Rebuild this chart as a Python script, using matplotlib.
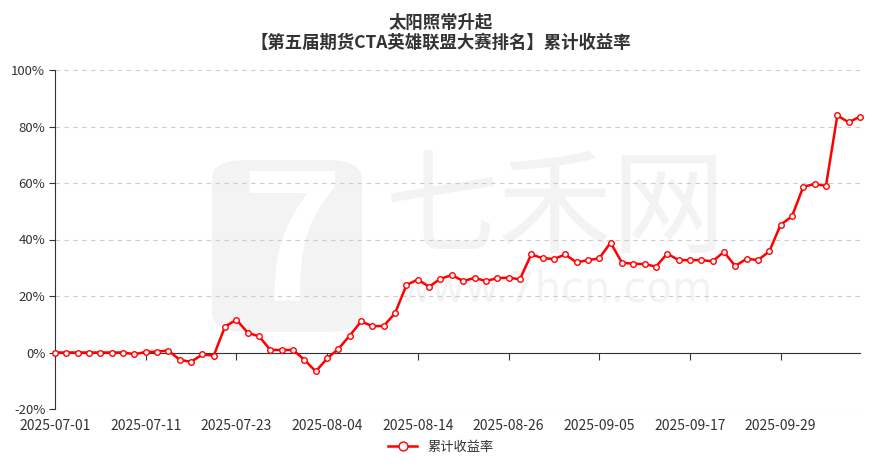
import matplotlib
matplotlib.use("Agg")
from matplotlib import pyplot as plt
from matplotlib.patches import FancyBboxPatch
import numpy as np
import pandas as pd

plt.rcParams["font.family"] = ["Noto Sans CJK SC", "DejaVu Sans"]

# ---- data ----------------------------------------------------------------
TITLE = "太阳照常升起\n【第五届期货CTA英雄联盟大赛排名】累计收益率"
SERIES_NAME = "累计收益率"

# trading days (China), national-day holiday removed
days = pd.bdate_range("2025-07-01", "2025-10-16")
days = days[(days < "2025-10-01") | (days > "2025-10-08")]
dates = [d.strftime("%Y-%m-%d") for d in days]

# cumulative return, %
returns = [0, 0, 0, 0, 0, 0, 0, -0.6, 0.2, 0.3,
           0.7, -2.6, -3.3, -0.7, -1.1, 9.2, 11.6, 7.0, 5.7, 0.9,
           0.9, 0.9, -2.6, -6.7, -2.1, 1.3, 6.0, 11.0, 9.3, 9.4,
           14.0, 23.9, 25.8, 23.3, 26.1, 27.4, 25.3, 26.4, 25.3, 26.3,
           26.5, 25.9, 34.7, 33.4, 33.1, 34.7, 31.9, 32.7, 33.3, 38.9,
           31.8, 31.4, 31.3, 30.4, 35.0, 32.7, 32.7, 32.7, 32.3, 35.6,
           30.6, 33.2, 32.7, 35.8, 45.2, 48.2, 58.7, 59.6, 59.0, 83.9,
           81.5, 83.5]

y_ticks = [-20, 0, 20, 40, 60, 80, 100]
x_step = 8

# ---- figure ----------------------------------------------------------------
fig = plt.figure(figsize=(8.82, 4.70), dpi=100)

# watermark (behind the axes)
wm = "#f3f3f3"
logo = FancyBboxPatch((212 / 882, 1 - 332 / 470), 150 / 882, 172 / 470,
                      boxstyle="round,pad=0,rounding_size=0.04",
                      transform=fig.transFigure, facecolor=wm, edgecolor="none", zorder=-2)
fig.patches.append(logo)
fig.text(292 / 882, 1 - 248 / 470, "7", fontsize=125, fontweight="bold", color="white",
         ha="center", va="center", style="italic", zorder=-1)
fig.text(555 / 882, 1 - 212 / 470, "七禾网", fontsize=82, color=wm,
         ha="center", va="center", zorder=-1)
fig.text(555 / 882, 1 - 290 / 470, "www.7hcn.com", fontsize=30, color=wm,
         ha="center", va="center", family="DejaVu Sans", zorder=-1)

ax = fig.add_axes([55 / 882, 1 - 409 / 470, 805 / 882, 339 / 470], zorder=1)
ax.set_facecolor("none")

x = np.arange(len(dates))
ax.plot(x, returns, color="#ff0000", lw=1.8, marker="o", ms=4.0,
        mfc="white", mec="#ff0000", mew=1.0, label=SERIES_NAME, zorder=3,
        clip_on=False)

ax.set_xlim(0, len(dates) - 1)
ax.set_ylim(-20, 100)
ax.set_yticks(y_ticks)
ax.set_yticklabels([f"{v}%" for v in y_ticks])
ax.yaxis.grid(True, color="#cccccc", ls=(0, (4, 4)), lw=0.8)
ax.set_axisbelow(True)

for s in ["top", "right"]:
    ax.spines[s].set_visible(False)
ax.spines["left"].set_color("#333333")
ax.spines["bottom"].set_position(("data", 0))
ax.spines["bottom"].set_color("#333333")
ax.spines["bottom"].set_zorder(2)

ticks = x[::x_step]
ax.set_xticks(ticks)
ax.tick_params(axis="x", length=5, color="#333333", labelbottom=False)
ax.tick_params(axis="y", length=4, color="#333333", labelsize=9.5, labelcolor="#333333", pad=3)

sec = ax.secondary_xaxis(0)
sec.set_xticks(ticks, [dates[i] for i in ticks])
sec.tick_params(length=0, labelsize=10, labelcolor="#333333", pad=7)
sec.spines["bottom"].set_visible(False)

fig.suptitle(TITLE, x=0.5, y=0.97, fontsize=12.5, fontweight="bold",
             color="#333333", linespacing=1.1)

leg = fig.legend(loc="center", bbox_to_anchor=(0.5, 1 - 447 / 470), frameon=False,
                 fontsize=9.5, handlelength=2.2, markerscale=1.6)
for t in leg.get_texts():
    t.set_color("#333333")

fig.savefig("out.png", dpi=100)
